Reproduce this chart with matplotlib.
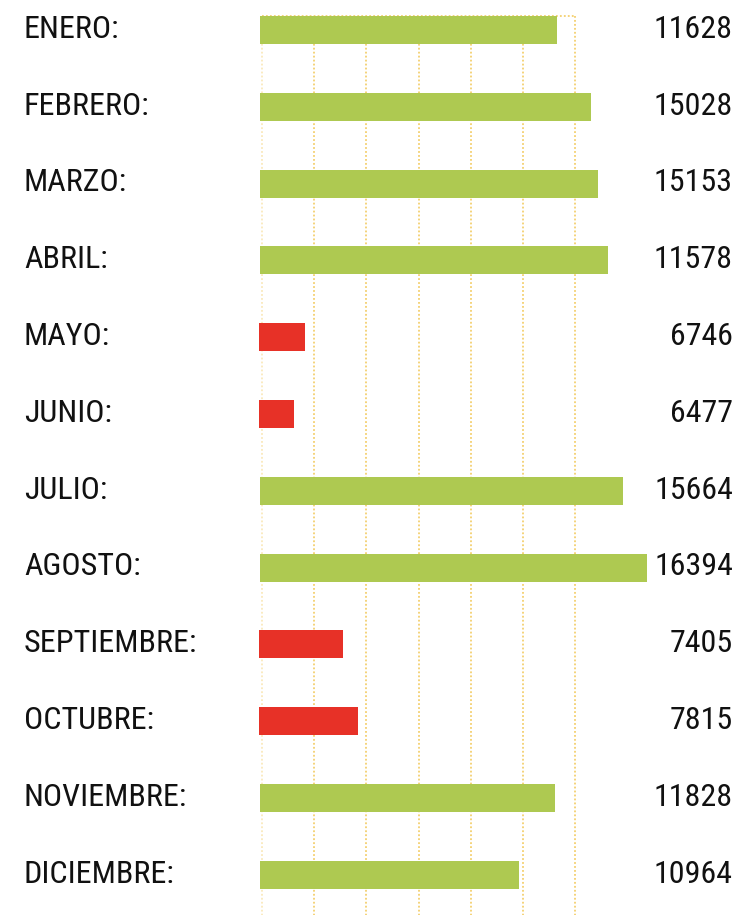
import numpy as np
import matplotlib.pyplot as plt
from matplotlib import font_manager
from matplotlib.transforms import blended_transform_factory

# data
months = ["ENERO", "FEBRERO", "MARZO", "ABRIL", "MAYO", "JUNIO", "JULIO",
          "AGOSTO", "SEPTIEMBRE", "OCTUBRE", "NOVIEMBRE", "DICIEMBRE"]
values = [11628, 15028, 15153, 11578, 6746, 6477, 15664, 16394, 7405, 7815, 11828, 10964]
# bar lengths as drawn (in grid units), they are not proportional to the labels
bar_len = [5.65, 6.30, 6.44, 6.62, 0.83, 0.62, 6.91, 7.37, 1.56, 1.84, 5.61, 4.92]
is_low = [False, False, False, False, True, True, False, False, True, True, False, False]

GREEN = "#aec951"
RED = "#e73127"
GRID = "#f0c040"

names = set(f.name for f in font_manager.fontManager.ttflist)
fam = "DejaVu Sans"
for cand in ["Roboto Condensed", "Liberation Sans Narrow", "Nimbus Sans Narrow",
             "Archivo Narrow", "Barlow Semi Condensed"]:
    if cand in names:
        fam = cand
        break
plt.rcParams["font.family"] = [fam, "DejaVu Sans"]

W, H = 737, 915
fig = plt.figure(figsize=(W / 100, H / 100), dpi=100)
ax = fig.add_axes([0, 0, 1, 1])

# pixel geometry -> data limits
x0_px, unit_px = 261.7, 52.27
y0_px, step_px = 30, 76.8
ax.set_xlim(-x0_px / unit_px, (W - x0_px) / unit_px)
ax.set_ylim((H - y0_px) / step_px, -y0_px / step_px)
ax.axis("off")

n = len(months)
y = np.arange(n)
top = (16 - y0_px) / step_px

# dotted grid
for g in range(7):
    ax.plot([g, g], [top, n + 1], color=GRID, lw=1.3, ls=(0, (1, 1.2)),
            alpha=0.35 if g == 0 else 0.75, zorder=1)
ax.plot([0, 6], [top, top], color=GRID, lw=1.3, ls=(0, (1, 1.2)), alpha=0.75, zorder=1)

colors = [RED if low else GREEN for low in is_low]
lefts = [-0.05 if low else -0.03 for low in is_low]
ax.barh(y, np.array(bar_len) - np.array(lefts), left=lefts, height=28 / step_px,
        color=colors, zorder=2)

tr = blended_transform_factory(ax.transAxes, ax.transData)
for i in range(n):
    ax.text(24 / W, y[i] - 0.01, months[i] + ":", transform=tr, ha="left",
            va="center", fontsize=23, color="#111111")
    ax.text(733 / W, y[i] - 0.01, str(values[i]), transform=tr, ha="right",
            va="center", fontsize=23, color="#111111")

fig.savefig("out.png", dpi=100)
